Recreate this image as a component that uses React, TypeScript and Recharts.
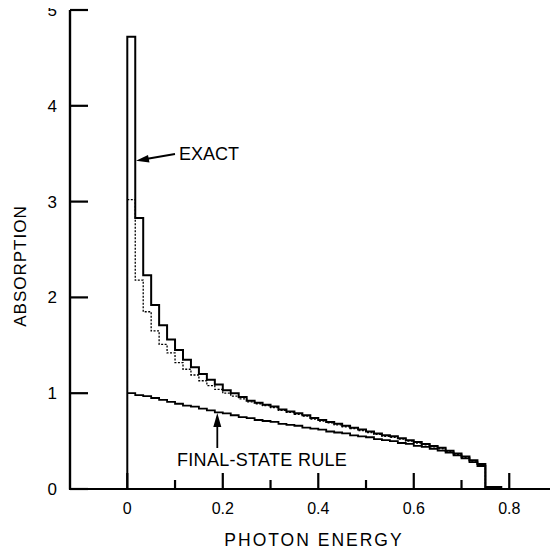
import React from 'react';
import { LineChart, Line, XAxis, YAxis } from 'recharts';

// bin width of the histogram steps (photon energy)
const BIN = 1 / 60;

// step heights, one per bin starting at energy 0
const EXACT = [4.72, 2.83, 2.23, 1.92, 1.71, 1.56, 1.45, 1.35, 1.27, 1.2, 1.14, 1.09, 1.03, 1.0, 0.96, 0.92, 0.9, 0.88, 0.86, 0.83, 0.81, 0.79, 0.77, 0.74, 0.72, 0.7, 0.68, 0.66, 0.64, 0.62, 0.6, 0.58, 0.56, 0.55, 0.53, 0.51, 0.49, 0.47, 0.45, 0.43, 0.4, 0.37, 0.34, 0.3, 0.26];
const DOTTED = [3.02, 2.18, 1.85, 1.65, 1.51, 1.42, 1.32, 1.25, 1.19, 1.13, 1.08, 1.04, 1.0, 0.97, 0.94, 0.91, 0.89, 0.87, 0.85, 0.82, 0.8, 0.78, 0.76, 0.73, 0.71, 0.69, 0.67, 0.65, 0.63, 0.61, 0.59, 0.57, 0.55, 0.54, 0.52, 0.5, 0.48, 0.46, 0.44, 0.42, 0.39, 0.36, 0.33, 0.29, 0.25];
const FINAL_STATE = [1.0, 0.98, 0.97, 0.95, 0.93, 0.91, 0.89, 0.87, 0.86, 0.84, 0.82, 0.8, 0.79, 0.77, 0.75, 0.74, 0.72, 0.71, 0.7, 0.68, 0.67, 0.66, 0.64, 0.63, 0.62, 0.6, 0.59, 0.58, 0.56, 0.55, 0.54, 0.52, 0.51, 0.5, 0.48, 0.47, 0.45, 0.44, 0.42, 0.4, 0.38, 0.35, 0.32, 0.28, 0.24];
// small tail of the exact curve beyond the cutoff
const TAIL_VALUE = 0.02;
const TAIL_END = 0.7833;

const X_DOMAIN = [-0.12, 0.9];
const Y_DOMAIN = [0, 5];
const X_MAJOR_TICKS = [0, 0.2, 0.4, 0.6, 0.8];
const X_MINOR_TICKS = [0.1, 0.3, 0.5, 0.7, 0.9];
const Y_TICKS = [0, 1, 2, 3, 4, 5];

const rows: any[] = [];
rows.push({ e: 0, exact: 0 });
EXACT.forEach((v, k) => {
  rows.push({ e: k * BIN, exact: v, dotted: DOTTED[k], fsr: FINAL_STATE[k] });
});
rows.push({ e: EXACT.length * BIN, exact: TAIL_VALUE, dotted: 0, fsr: 0 });
rows.push({ e: TAIL_END, exact: 0 });

const FONT = '"Liberation Sans", Arial, sans-serif';

// chart geometry (shared by the chart and the inward tick overlay)
const W = 558;
const H = 552;
const M_TOP = 10;
const M_RIGHT = 1;
const M_BOTTOM = 20;
const M_LEFT = 20;
const Y_AXIS_W = 50;
const X_AXIS_H = 43;
const P_LEFT = M_LEFT + Y_AXIS_W;
const P_RIGHT = W - M_RIGHT;
const P_TOP = M_TOP;
const P_BOTTOM = H - M_BOTTOM - X_AXIS_H;
const sx = (v: number) => P_LEFT + ((v - X_DOMAIN[0]) / (X_DOMAIN[1] - X_DOMAIN[0])) * (P_RIGHT - P_LEFT);
const sy = (v: number) => P_BOTTOM - ((v - Y_DOMAIN[0]) / (Y_DOMAIN[1] - Y_DOMAIN[0])) * (P_BOTTOM - P_TOP);

export default function App() {
  return (
    <div style={{ position: 'relative', margin: '-8px 0 0 -8px', width: W, height: H, background: '#fff' }}>
      <LineChart width={W} height={H} data={rows} margin={{ top: M_TOP, right: M_RIGHT, bottom: M_BOTTOM, left: M_LEFT }}>
        <XAxis
          dataKey="e"
          type="number"
          domain={[-0.12, 0.9]}
          ticks={[0, 0.2, 0.4, 0.6, 0.8]}
          allowDataOverflow
          stroke="#000"
          axisLine={{ stroke: '#000', strokeWidth: 2.2 }}
          tickLine={false}
          tickSize={2}
          tickMargin={12}
          tick={{ fill: '#000', fontSize: 16, fontFamily: FONT }}
          height={X_AXIS_H}
          interval={0}
        />
        <YAxis
          type="number"
          domain={[0, 5]}
          ticks={[0, 1, 2, 3, 4, 5]}
          allowDataOverflow
          stroke="#000"
          axisLine={{ stroke: '#000', strokeWidth: 2.2 }}
          tickLine={false}
          tickSize={2}
          tickMargin={11}
          tick={{ fill: '#000', fontSize: 17, fontFamily: FONT }}
          width={Y_AXIS_W}
          interval={0}
        />
        <Line dataKey="fsr" type="stepAfter" stroke="#000" strokeWidth={1.8} dot={false} isAnimationActive={false} />
        <Line dataKey="dotted" type="stepAfter" stroke="#000" strokeWidth={1.3} strokeDasharray="2 1.5" dot={false} isAnimationActive={false} />
        <Line dataKey="exact" type="stepAfter" stroke="#000" strokeWidth={2} dot={false} isAnimationActive={false} />
      </LineChart>
      <svg width={W} height={H} style={{ position: 'absolute', left: 0, top: 0, pointerEvents: 'none', zIndex: 10 }}>
        <rect x={P_LEFT - 1.1} y={P_TOP} width={2.2} height={P_BOTTOM - P_TOP + 1} fill="#000" />
        {Y_TICKS.map((t) => (
          <rect key={'y' + t} x={P_LEFT} y={sy(t) - 1.1} width={18} height={2.2} fill="#000" />
        ))}
        {X_MAJOR_TICKS.map((t) => (
          <rect key={'M' + t} x={sx(t) - 1.1} y={P_BOTTOM - 16} width={2.2} height={16} fill="#000" />
        ))}
        {X_MINOR_TICKS.map((t) => (
          <rect key={'m' + t} x={sx(t) - 1.1} y={P_BOTTOM - 9} width={2.2} height={9} fill="#000" />
        ))}
        <text x={20} y={266} transform="rotate(-90 20 266)" textAnchor="middle" dominantBaseline="central" fontSize={17} letterSpacing={1} fontFamily={FONT} fill="#000">
          ABSORPTION
        </text>
        <text x={314} y={546} textAnchor="middle" fontSize={17.5} letterSpacing={2} fontFamily={FONT} fill="#000">
          PHOTON ENERGY
        </text>
        <text x={179} y={160} fontSize={18} fontFamily={FONT} fill="#000">
          EXACT
        </text>
        <line x1={175} y1={154} x2={146} y2={159} stroke="#000" strokeWidth={1.8} />
        <polygon points="136,160.7 148,155 149.5,162.5" fill="#000" />
        <text x={177} y={466} fontSize={18} letterSpacing={0.3} fontFamily={FONT} fill="#000">
          FINAL-STATE RULE
        </text>
        <line x1={217.3} y1={448} x2={217.3} y2={424} stroke="#000" strokeWidth={1.8} />
        <polygon points="217.3,413 213.3,427 221.3,427" fill="#000" />
      </svg>
    </div>
  );
}
